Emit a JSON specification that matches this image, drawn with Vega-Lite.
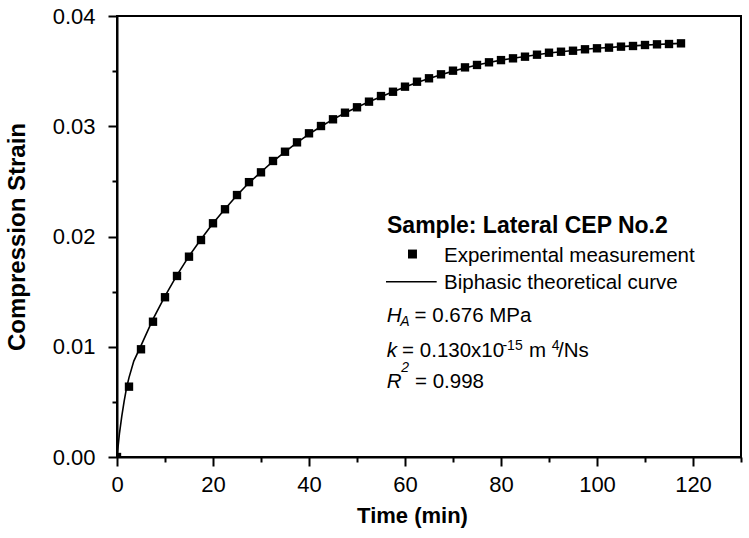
{
  "$schema": "https://vega.github.io/schema/vega-lite/v6.json",
  "width": 624,
  "height": 441,
  "autosize": "none",
  "padding": {"left": 117, "top": 16, "right": 8, "bottom": 81},
  "background": "white",
  "config": {
    "view": {"stroke": "black", "strokeWidth": 2},
    "axis": {
      "grid": false,
      "domainColor": "black",
      "domainWidth": 2,
      "tickColor": "black",
      "tickWidth": 2,
      "labelColor": "black",
      "labelFont": "Liberation Sans",
      "labelFontSize": 22,
      "titleFont": "Liberation Sans",
      "titleFontSize": 22,
      "titleFontWeight": "bold",
      "titleColor": "black"
    }
  },
  "datasets": {
    "pts": [
      {"t": 0, "s": 0},
      {"t": 2.5, "s": 0.00638},
      {"t": 5, "s": 0.00977},
      {"t": 7.5, "s": 0.01227},
      {"t": 10, "s": 0.01449},
      {"t": 12.5, "s": 0.01642},
      {"t": 15, "s": 0.01817},
      {"t": 17.5, "s": 0.01968},
      {"t": 20, "s": 0.0212},
      {"t": 22.5, "s": 0.02247},
      {"t": 25, "s": 0.02376},
      {"t": 27.5, "s": 0.02493},
      {"t": 30, "s": 0.02582},
      {"t": 32.5, "s": 0.02685},
      {"t": 35, "s": 0.02769},
      {"t": 37.5, "s": 0.02854},
      {"t": 40, "s": 0.02936},
      {"t": 42.5, "s": 0.03002},
      {"t": 45, "s": 0.03063},
      {"t": 47.5, "s": 0.03123},
      {"t": 50, "s": 0.03172},
      {"t": 52.5, "s": 0.03223},
      {"t": 55, "s": 0.03274},
      {"t": 57.5, "s": 0.03313},
      {"t": 60, "s": 0.03359},
      {"t": 62.5, "s": 0.03404},
      {"t": 65, "s": 0.03435},
      {"t": 67.5, "s": 0.03471},
      {"t": 70, "s": 0.03504},
      {"t": 72.5, "s": 0.03534},
      {"t": 75, "s": 0.03556},
      {"t": 77.5, "s": 0.0358},
      {"t": 80, "s": 0.036},
      {"t": 82.5, "s": 0.03616},
      {"t": 85, "s": 0.03631},
      {"t": 87.5, "s": 0.03649},
      {"t": 90, "s": 0.03667},
      {"t": 92.5, "s": 0.03676},
      {"t": 95, "s": 0.03685},
      {"t": 97.5, "s": 0.03698},
      {"t": 100, "s": 0.03707},
      {"t": 102.5, "s": 0.03713},
      {"t": 105, "s": 0.03722},
      {"t": 107.5, "s": 0.03728},
      {"t": 110, "s": 0.03737},
      {"t": 112.5, "s": 0.03743},
      {"t": 115, "s": 0.03746},
      {"t": 117.5, "s": 0.03752}
    ],
    "curve": [
      {"t": 0, "s": 0},
      {"t": 0.5, "s": 0.0021},
      {"t": 1, "s": 0.0037},
      {"t": 1.5, "s": 0.0051},
      {"t": 2, "s": 0.0063},
      {"t": 2.5, "s": 0.0072},
      {"t": 3.5, "s": 0.0087},
      {"t": 5, "s": 0.0101},
      {"t": 7.5, "s": 0.0125},
      {"t": 10, "s": 0.0146},
      {"t": 12.5, "s": 0.0165},
      {"t": 15, "s": 0.01822},
      {"t": 17.5, "s": 0.01975},
      {"t": 20, "s": 0.0212},
      {"t": 22.5, "s": 0.02249},
      {"t": 25, "s": 0.02374},
      {"t": 27.5, "s": 0.02487},
      {"t": 30, "s": 0.02585},
      {"t": 32.5, "s": 0.02682},
      {"t": 35, "s": 0.02768},
      {"t": 37.5, "s": 0.02851},
      {"t": 40, "s": 0.02929},
      {"t": 42.5, "s": 0.02998},
      {"t": 45, "s": 0.03062},
      {"t": 47.5, "s": 0.0312},
      {"t": 50, "s": 0.03172},
      {"t": 52.5, "s": 0.03222},
      {"t": 55, "s": 0.03268},
      {"t": 57.5, "s": 0.03312},
      {"t": 60, "s": 0.03355},
      {"t": 62.5, "s": 0.03397},
      {"t": 65, "s": 0.03433},
      {"t": 67.5, "s": 0.03468},
      {"t": 70, "s": 0.035},
      {"t": 72.5, "s": 0.03529},
      {"t": 75, "s": 0.03555},
      {"t": 77.5, "s": 0.03579},
      {"t": 80, "s": 0.036},
      {"t": 82.5, "s": 0.03617},
      {"t": 85, "s": 0.03633},
      {"t": 87.5, "s": 0.03649},
      {"t": 90, "s": 0.03664},
      {"t": 92.5, "s": 0.03676},
      {"t": 95, "s": 0.03687},
      {"t": 97.5, "s": 0.03698},
      {"t": 100, "s": 0.03707},
      {"t": 102.5, "s": 0.03714},
      {"t": 105, "s": 0.03722},
      {"t": 107.5, "s": 0.03729},
      {"t": 110, "s": 0.03736},
      {"t": 112.5, "s": 0.03742},
      {"t": 115, "s": 0.03747},
      {"t": 117.5, "s": 0.03752}
    ]
  },
  "encoding": {
    "x": {
      "type": "quantitative",
      "scale": {"domain": [0, 130], "nice": false, "zero": false},
      "axis": {
        "title": "Time (min)",
        "titleX": 295,
        "titleAlign": "center",
        "values": [0, 10, 20, 30, 40, 50, 60, 70, 80, 90, 100, 110, 120, 130],
        "labelExpr": "datum.value % 20 === 0 && datum.value <= 120 ? datum.label : ''",
        "tickSize": {"condition": {"test": "datum.value % 20 === 0", "value": 9}, "value": 5},
        "labelPadding": 8,
        "titlePadding": 10,
        "labelFlush": false,
        "labelOverlap": false
      }
    },
    "y": {
      "type": "quantitative",
      "scale": {"domain": [0, 0.04], "nice": false, "zero": false},
      "axis": {
        "title": "Compression Strain",
        "titleFontSize": 24,
        "values": [0, 0.005, 0.01, 0.015, 0.02, 0.025, 0.03, 0.035, 0.04],
        "format": ".2f",
        "labelExpr": "round(datum.value * 1000) % 10 === 0 ? datum.label : ''",
        "tickSize": {"condition": {"test": "round(datum.value * 1000) % 10 === 0", "value": 9}, "value": 5},
        "labelPadding": 13,
        "titlePadding": 23,
        "labelFlush": false,
        "labelOverlap": false
      }
    }
  },
  "layer": [
    {
      "data": {"name": "curve"},
      "mark": {"type": "line", "color": "black", "strokeWidth": 1.6, "clip": true},
      "encoding": {"x": {"field": "t", "type": "quantitative"}, "y": {"field": "s", "type": "quantitative"}}
    },
    {
      "data": {"name": "pts"},
      "mark": {"type": "point", "shape": "square", "filled": true, "color": "black", "size": 70, "opacity": 1, "clip": true},
      "encoding": {"x": {"field": "t", "type": "quantitative"}, "y": {"field": "s", "type": "quantitative"}}
    },
    {
      "data": {"values": [{}]},
      "mark": {"type": "point", "shape": "square", "filled": true, "color": "black", "size": 80, "opacity": 1},
      "encoding": {"x": {"datum": 61.56}, "y": {"datum": 0.01841}}
    },
    {
      "data": {"values": [{}]},
      "mark": {"type": "rule", "color": "black", "strokeWidth": 1.6},
      "encoding": {"x": {"datum": 56.04}, "x2": {"datum": 66.6}, "y": {"datum": 0.0159}}
    },
    {
      "data": {"values": [{}]},
      "mark": {"type": "text", "text": "Sample: Lateral CEP No.2", "align": "left", "baseline": "alphabetic", "font": "Liberation Sans", "fontSize": 23, "fontWeight": "bold", "color": "black"},
      "encoding": {"x": {"datum": 56.25}, "y": {"datum": 0.02032}}
    },
    {
      "data": {"values": [{}]},
      "mark": {"type": "text", "text": "Experimental measurement", "align": "left", "baseline": "alphabetic", "font": "Liberation Sans", "fontSize": 20.5, "color": "black"},
      "encoding": {"x": {"datum": 68.13}, "y": {"datum": 0.01772}}
    },
    {
      "data": {"values": [{}]},
      "mark": {"type": "text", "text": "Biphasic theoretical curve", "align": "left", "baseline": "alphabetic", "font": "Liberation Sans", "fontSize": 20.5, "color": "black"},
      "encoding": {"x": {"datum": 68.13}, "y": {"datum": 0.01524}}
    },
    {
      "data": {"values": [{}]},
      "mark": {"type": "text", "text": "H", "align": "left", "baseline": "alphabetic", "font": "Liberation Sans", "fontSize": 20.5, "fontStyle": "italic", "color": "black"},
      "encoding": {"x": {"datum": 56.19}, "y": {"datum": 0.01227}}
    },
    {
      "data": {"values": [{}]},
      "mark": {"type": "text", "text": "A", "align": "left", "baseline": "alphabetic", "font": "Liberation Sans", "fontSize": 14, "fontStyle": "italic", "color": "black"},
      "encoding": {"x": {"datum": 59.0}, "y": {"datum": 0.01188}}
    },
    {
      "data": {"values": [{}]},
      "mark": {"type": "text", "text": "= 0.676 MPa", "align": "left", "baseline": "alphabetic", "font": "Liberation Sans", "fontSize": 20.5, "color": "black"},
      "encoding": {"x": {"datum": 62.0}, "y": {"datum": 0.01227}}
    },
    {
      "data": {"values": [{}]},
      "mark": {"type": "text", "text": "k", "align": "left", "baseline": "alphabetic", "font": "Liberation Sans", "fontSize": 20.5, "fontStyle": "italic", "color": "black"},
      "encoding": {"x": {"datum": 56.19}, "y": {"datum": 0.0091}}
    },
    {
      "data": {"values": [{}]},
      "mark": {"type": "text", "text": "= 0.130x10", "align": "left", "baseline": "alphabetic", "font": "Liberation Sans", "fontSize": 20.5, "color": "black"},
      "encoding": {"x": {"datum": 59.4}, "y": {"datum": 0.0091}}
    },
    {
      "data": {"values": [{}]},
      "mark": {"type": "text", "text": "-15", "align": "left", "baseline": "alphabetic", "font": "Liberation Sans", "fontSize": 14, "color": "black"},
      "encoding": {"x": {"datum": 80.3}, "y": {"datum": 0.00971}}
    },
    {
      "data": {"values": [{}]},
      "mark": {"type": "text", "text": "m", "align": "left", "baseline": "alphabetic", "font": "Liberation Sans", "fontSize": 20.5, "color": "black"},
      "encoding": {"x": {"datum": 85.83}, "y": {"datum": 0.0091}}
    },
    {
      "data": {"values": [{}]},
      "mark": {"type": "text", "text": "4", "align": "left", "baseline": "alphabetic", "font": "Liberation Sans", "fontSize": 14, "color": "black"},
      "encoding": {"x": {"datum": 90.56}, "y": {"datum": 0.00971}}
    },
    {
      "data": {"values": [{}]},
      "mark": {"type": "text", "text": "/Ns", "align": "left", "baseline": "alphabetic", "font": "Liberation Sans", "fontSize": 20.5, "color": "black"},
      "encoding": {"x": {"datum": 91.88}, "y": {"datum": 0.0091}}
    },
    {
      "data": {"values": [{}]},
      "mark": {"type": "text", "text": "R", "align": "left", "baseline": "alphabetic", "font": "Liberation Sans", "fontSize": 20.5, "fontStyle": "italic", "color": "black"},
      "encoding": {"x": {"datum": 56.19}, "y": {"datum": 0.00623}}
    },
    {
      "data": {"values": [{}]},
      "mark": {"type": "text", "text": "2", "align": "left", "baseline": "alphabetic", "font": "Liberation Sans", "fontSize": 14, "fontStyle": "italic", "color": "black"},
      "encoding": {"x": {"datum": 59.2}, "y": {"datum": 0.00768}}
    },
    {
      "data": {"values": [{}]},
      "mark": {"type": "text", "text": "= 0.998", "align": "left", "baseline": "alphabetic", "font": "Liberation Sans", "fontSize": 20.5, "color": "black"},
      "encoding": {"x": {"datum": 62.08}, "y": {"datum": 0.00623}}
    }
  ]
}
